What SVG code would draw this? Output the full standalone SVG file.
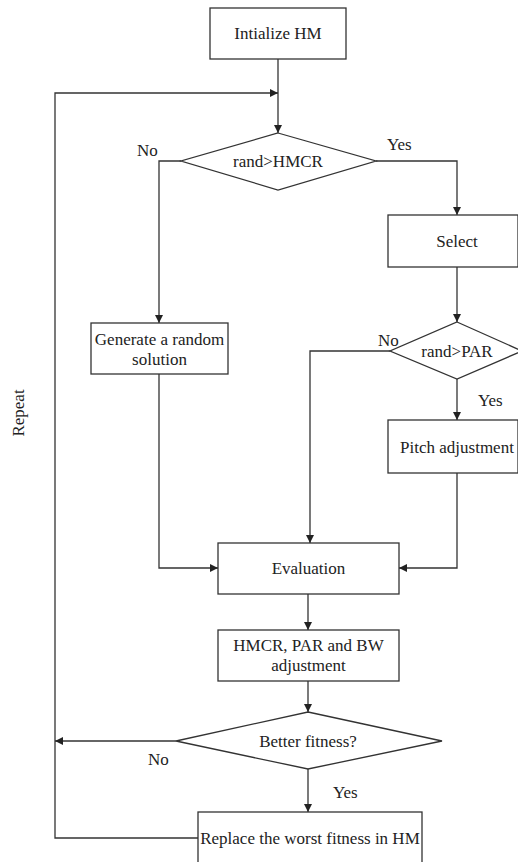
<svg xmlns="http://www.w3.org/2000/svg" width="518" height="862" viewBox="0 0 518 862">
<defs>
<marker id="arr" viewBox="0 0 10 10" refX="10" refY="5" markerWidth="8" markerHeight="8" markerUnits="userSpaceOnUse" orient="auto">
<path d="M0,0 L10,5 L0,10 z" fill="#222"/>
</marker>
<style>
.n{fill:#fff;stroke:#333;stroke-width:1.3}
.c{fill:none;stroke:#333;stroke-width:1.3}
.t{font-family:"Liberation Serif","Times New Roman",serif;font-size:17px;fill:#222;text-anchor:middle}
.l{font-family:"Liberation Serif","Times New Roman",serif;font-size:17px;fill:#222}
</style>
</defs>
<rect width="518" height="862" fill="#fff"/>
<g id="connectors">
<path class="c" d="M278,59 V133" marker-end="url(#arr)"/>
<path class="c" d="M181,161 H159 V323" marker-end="url(#arr)"/>
<path class="c" d="M376,161 H457 V215" marker-end="url(#arr)"/>
<path class="c" d="M457,267 V322" marker-end="url(#arr)"/>
<path class="c" d="M390,351 H310 V543" marker-end="url(#arr)"/>
<path class="c" d="M457,379 V420" marker-end="url(#arr)"/>
<path class="c" d="M159,374 V568 H218" marker-end="url(#arr)"/>
<path class="c" d="M457,473 V568 H399" marker-end="url(#arr)"/>
<path class="c" d="M308,594 V630" marker-end="url(#arr)"/>
<path class="c" d="M308,681 V712" marker-end="url(#arr)"/>
<path class="c" d="M176,741 H55" marker-end="url(#arr)"/>
<path class="c" d="M308,769 V812" marker-end="url(#arr)"/>
<path class="c" d="M198,838 H55 V93 H278" marker-end="url(#arr)"/>
<text class="l" x="137" y="156">No</text>
<text class="l" x="387" y="150">Yes</text>
<text class="l" x="378" y="346">No</text>
<text class="l" x="478" y="406">Yes</text>
<text class="l" x="148" y="765">No</text>
<text class="l" x="333" y="798">Yes</text>
<text class="t" transform="translate(24,413) rotate(-90)">Repeat</text>
</g>
<g id="init">
<rect class="n" x="210" y="8" width="136" height="51"/>
<text class="t" x="278" y="39">Intialize HM</text>
</g>
<g id="hmcr">
<polygon class="n" points="278,133 376,161 278,190 181,161"/>
<text class="t" x="278" y="167">rand&gt;HMCR</text>
</g>
<g id="select">
<rect class="n" x="388" y="215" width="130" height="52"/>
<text class="t" x="457" y="247">Select</text>
</g>
<g id="random">
<rect class="n" x="91" y="323" width="137" height="51"/>
<text class="t" x="159.5" y="345">Generate a random</text>
<text class="t" x="159.5" y="365">solution</text>
</g>
<g id="par">
<polygon class="n" points="457,322 522,351 457,379 390,351"/>
<text class="t" x="457" y="357">rand&gt;PAR</text>
</g>
<g id="pitch">
<rect class="n" x="388" y="420" width="130" height="53"/>
<text class="t" x="457" y="453">Pitch adjustment</text>
</g>
<g id="evaluation">
<rect class="n" x="218" y="543" width="181" height="51"/>
<text class="t" x="308.5" y="574">Evaluation</text>
</g>
<g id="adjust">
<rect class="n" x="218" y="630" width="181" height="51"/>
<text class="t" x="308.5" y="651">HMCR, PAR and BW</text>
<text class="t" x="308.5" y="671">adjustment</text>
</g>
<g id="better">
<polygon class="n" points="308,712 442,741 308,769 176,741"/>
<text class="t" x="308" y="747">Better fitness?</text>
</g>
<g id="replace">
<rect class="n" x="198" y="812" width="224" height="60"/>
<text class="t" x="310" y="844">Replace the worst fitness in HM</text>
</g>
</svg>
